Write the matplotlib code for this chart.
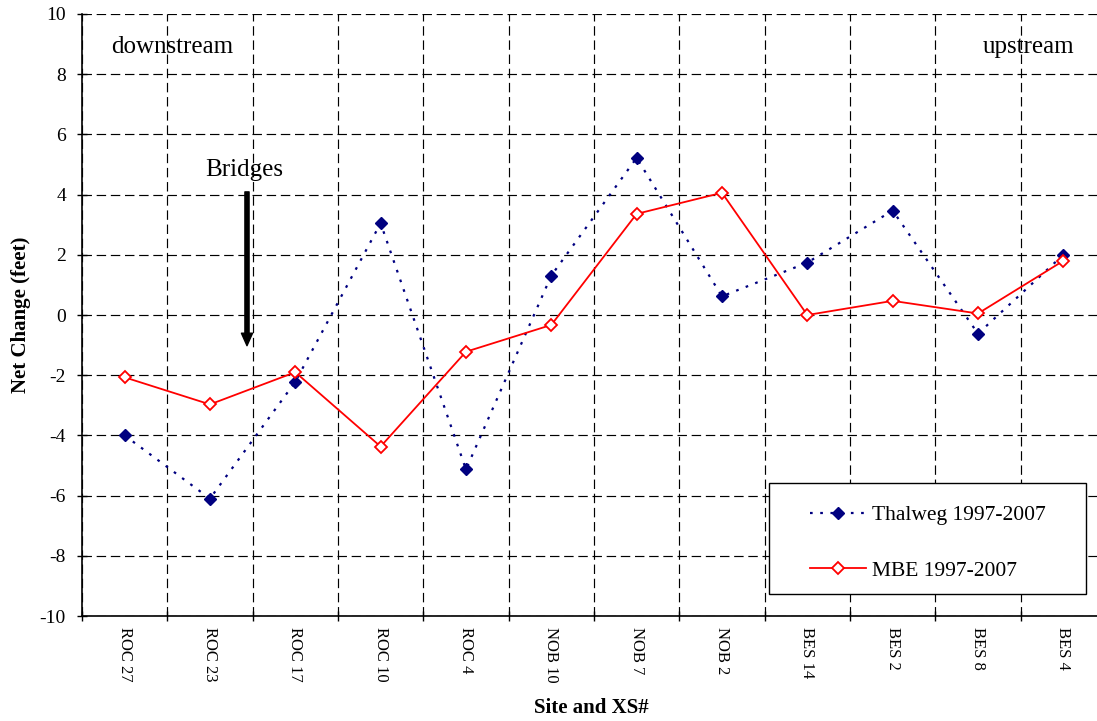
import matplotlib
matplotlib.use("Agg")
import matplotlib.pyplot as plt
from matplotlib.patches import Rectangle

plt.rcParams['font.family'] = ['Liberation Serif', 'DejaVu Serif']
plt.rcParams['axes.unicode_minus'] = False  # plain hyphen for negatives

sites = ["ROC 27", "ROC 23", "ROC 17", "ROC 10", "ROC 4", "NOB 10",
         "NOB 7", "NOB 2", "BES 14", "BES 2", "BES 8", "BES 4"]
thalweg = [-4.0, -6.1, -2.22, 3.05, -5.13, 1.31, 5.22, 0.62, 1.74, 3.47, -0.62, 2.0]
mbe = [-2.07, -2.97, -1.9, -4.37, -1.22, -0.33, 3.36, 4.06, 0.0, 0.47, 0.05, 1.8]
yticks = list(range(-10, 11, 2))

fig = plt.figure(figsize=(10.97, 7.21), dpi=100)
ax = fig.add_axes([0.0747, 0.1456, 0.9335, 0.835])

x = list(range(len(sites)))
ax.plot(x, thalweg, color='#000080', lw=1.6, linestyle=(0, (1.2, 3.4)),
        marker='D', ms=6.3, mfc='#000080', mec='#000080', mew=1,
        label='Thalweg 1997-2007', zorder=2)
ax.plot(x, mbe, color='#ff0000', lw=1.3, linestyle='-',
        marker='D', ms=6.0, mfc='white', mec='#ff0000', mew=1.3,
        label='MBE 1997-2007', zorder=3)

ax.set_xlim(-0.5, len(sites) - 0.5)
ax.set_ylim(-10, 10)
ax.set_yticks(yticks)
ax.set_xticks(x)
ax.set_xticklabels(sites, rotation=-90, fontsize=12)
ax.set_xticks([i - 0.5 for i in range(len(sites) + 1)], minor=True)
ax.tick_params(axis='x', which='major', length=0, pad=8)
ax.tick_params(axis='x', which='minor', direction='inout', length=7, width=1)
ax.tick_params(axis='y', direction='inout', length=7, width=1, labelsize=14, pad=8)

ax.set_axisbelow(True)
ax.grid(axis='y', which='major', color='black', lw=0.85, linestyle=(0, (8, 4)))
ax.grid(axis='x', which='minor', color='black', lw=0.85, linestyle=(0, (8, 4)))
for side in ['top', 'right']:
    ax.spines[side].set_visible(False)
ax.spines['left'].set_linewidth(1.2)
ax.spines['bottom'].set_linewidth(1.2)

ax.set_ylabel('Net Change (feet)', fontsize=15, fontweight='bold')
ax.yaxis.set_label_coords(-0.050, 0.5)
ax.set_xlabel('Site and XS#', fontsize=15, fontweight='bold')
ax.xaxis.set_label_coords(0.497, -0.136)

ax.text(-0.16, 8.71, 'downstream', fontsize=18, ha='left', va='baseline')
ax.text(11.13, 8.71, 'upstream', fontsize=18, ha='right', va='baseline')
ax.text(1.40, 4.62, 'Bridges', fontsize=18, ha='center', va='baseline')
ax.annotate('', xy=(1.434, -1.02), xytext=(1.434, 4.09),
            arrowprops=dict(width=3, headwidth=8, headlength=9, color='black', shrink=0))

box = Rectangle((769 / 1097, 1 - 594 / 721), 317 / 1097, 111 / 721,
                transform=fig.transFigure, facecolor='white', edgecolor='black',
                lw=1, zorder=4, clip_on=False)
ax.add_patch(box)
leg = ax.legend(loc='center', bbox_to_anchor=(928 / 1097, 1 - 543 / 721),
                bbox_transform=fig.transFigure, frameon=False, fontsize=15.5,
                handlelength=2.6, handletextpad=0.3, labelspacing=1.64, borderpad=0)
leg.set_zorder(5)

fig.savefig('out.png', dpi=100)
